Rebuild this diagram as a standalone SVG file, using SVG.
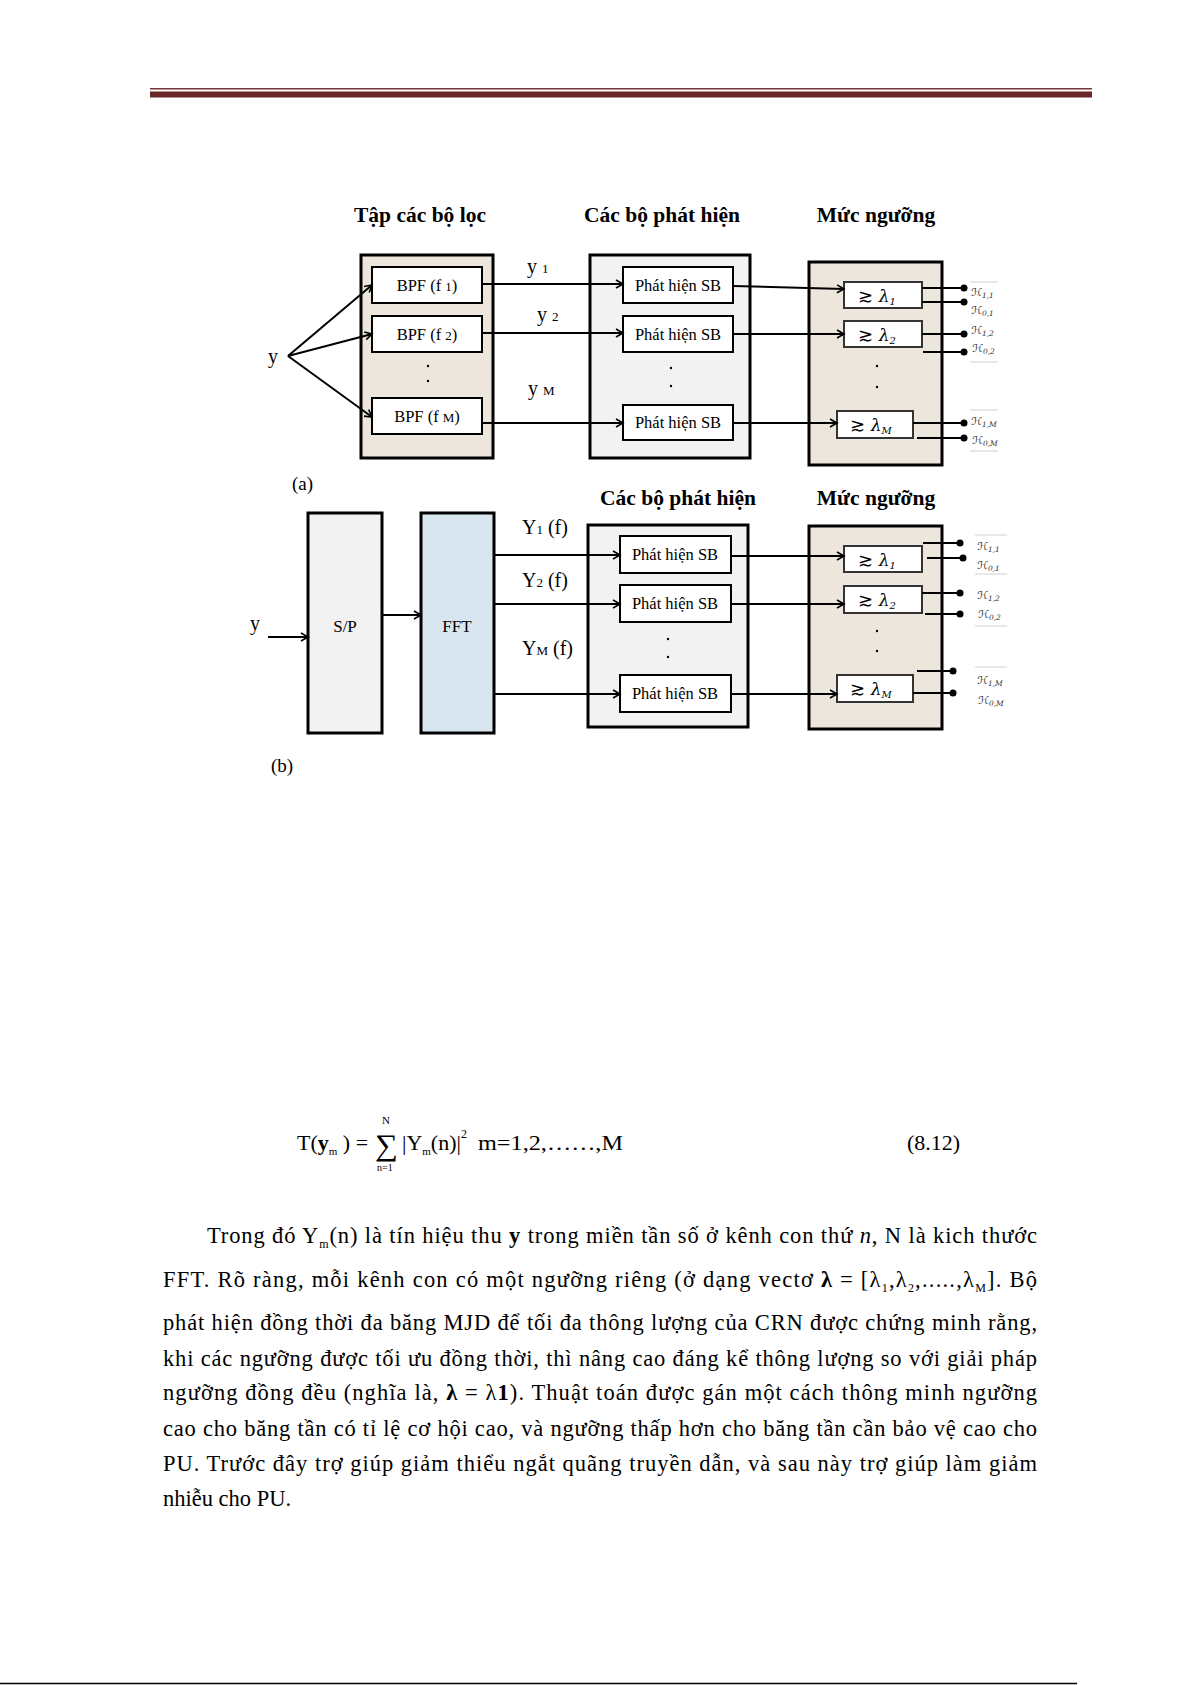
<svg xmlns="http://www.w3.org/2000/svg" width="1192" height="1685" viewBox="0 0 1192 1685">
<defs>
<marker id="arr" markerWidth="10" markerHeight="10" refX="8" refY="5" orient="auto" markerUnits="userSpaceOnUse"><path d="M1,1 L8,5 L1,9" fill="none" stroke="#000" stroke-width="1.6"/></marker>
</defs>
<style>
text{font-family:"Liberation Serif","Times New Roman",serif;fill:#000}
.title{font-size:21.5px;font-weight:bold;text-anchor:middle}
.box{fill:#fff;stroke:#000;stroke-width:2}
.big{stroke:#000;stroke-width:3}
.beige{fill:#ece6dc}
.gray{fill:#f2f2f2}
.blue{fill:#d7e6ef}
.lbl{font-size:16.5px;text-anchor:middle}
.sig{font-size:20px}
.sm{font-size:13px}
.th{fill:#fff;stroke:#333;stroke-width:2}
.ge{font-family:"DejaVu Sans",sans-serif;font-size:18px}
.lam{font-family:"DejaVu Serif",serif;font-style:italic;font-size:17px}
.lsub{font-family:"DejaVu Serif",serif;font-style:italic;font-size:10px}
.H{font-family:"DejaVu Serif","DejaVu Sans",serif;font-style:italic;font-size:11px;fill:#333}
.Hs{font-size:7.5px}
.c{fill:none;stroke:#000;stroke-width:2}
.ca{fill:none;stroke:#000;stroke-width:2;marker-end:url(#arr)}
.hl{stroke:#d0d0d0;stroke-width:1}
.body{font-size:22.5px}
.dot{fill:#000}
</style>
<!-- header / footer rules -->
<rect x="150" y="88" width="942" height="1.5" fill="#7a3535"/>
<rect x="150" y="91.5" width="942" height="6" fill="#6a2727"/>
<line x1="0" y1="1683.5" x2="1077" y2="1683.5" stroke="#000" stroke-width="1.5"/>

<!-- ===== Diagram (a) ===== -->
<text class="title" x="420" y="222">Tập các bộ lọc</text>
<text class="title" x="662" y="222">Các bộ phát hiện</text>
<text class="title" x="876" y="222">Mức ngưỡng</text>

<g id="filterbank"><rect class="big beige" x="361" y="255" width="132" height="203"/></g>
<g id="bpf1"><rect class="box" x="372" y="267" width="110" height="36"/><text class="lbl" x="427" y="291">BPF (f <tspan class="sm">1</tspan>)</text></g>
<g id="bpf2"><rect class="box" x="372" y="316" width="110" height="36"/><text class="lbl" x="427" y="340">BPF (f <tspan class="sm">2</tspan>)</text></g>
<g id="bpfM"><rect class="box" x="372" y="398" width="110" height="36"/><text class="lbl" x="427" y="422">BPF (f <tspan class="sm">M</tspan>)</text></g>
<circle class="dot" cx="428" cy="366" r="1.2"/><circle class="dot" cx="428" cy="381" r="1.2"/>
<text class="sig" x="268" y="363">y</text>

<g id="detA"><rect class="big gray" x="590" y="255" width="160" height="203"/></g>
<g id="detA1"><rect class="box" x="623" y="267" width="110" height="36"/><text class="lbl" x="678" y="291">Phát hiện SB</text></g>
<g id="detA2"><rect class="box" x="623" y="316" width="110" height="36"/><text class="lbl" x="678" y="340">Phát hiện SB</text></g>
<g id="detAM"><rect class="box" x="623" y="405" width="110" height="35"/><text class="lbl" x="678" y="428">Phát hiện SB</text></g>
<circle class="dot" cx="671" cy="368" r="1.2"/><circle class="dot" cx="671" cy="386" r="1.2"/>
<text class="sig" x="527" y="273">y <tspan class="sm">1</tspan></text>
<text class="sig" x="537" y="321">y <tspan class="sm">2</tspan></text>
<text class="sig" x="528" y="395">y <tspan class="sm">M</tspan></text>

<g id="thrA"><rect class="big beige" x="809" y="262" width="133" height="203"/></g>
<g id="thrA1"><rect class="th" x="844" y="282" width="78" height="26"/><text x="858" y="302"><tspan class="ge">≳ </tspan><tspan class="lam">λ</tspan><tspan class="lsub" dy="3">1</tspan></text></g>
<g id="thrA2"><rect class="th" x="844" y="321" width="78" height="26"/><text x="858" y="341"><tspan class="ge">≳ </tspan><tspan class="lam">λ</tspan><tspan class="lsub" dy="3">2</tspan></text></g>
<g id="thrAM"><rect class="th" x="837" y="411" width="76" height="27"/><text x="850" y="431"><tspan class="ge">≳ </tspan><tspan class="lam">λ</tspan><tspan class="lsub" dy="3">M</tspan></text></g>
<circle class="dot" cx="877" cy="366" r="1.2"/><circle class="dot" cx="877" cy="387" r="1.2"/>

<g id="hypA">
<line class="hl" x1="970" y1="282" x2="998" y2="282"/>
<line class="hl" x1="970" y1="362" x2="998" y2="362"/>
<line class="hl" x1="970" y1="410" x2="998" y2="410"/>
<line class="hl" x1="970" y1="451" x2="998" y2="451"/>
<text class="H" x="971" y="296">ℋ<tspan class="Hs" dy="2">1,1</tspan></text>
<text class="H" x="971" y="314">ℋ<tspan class="Hs" dy="2">0,1</tspan></text>
<text class="H" x="971" y="334">ℋ<tspan class="Hs" dy="2">1,2</tspan></text>
<text class="H" x="972" y="352">ℋ<tspan class="Hs" dy="2">0,2</tspan></text>
<text class="H" x="971" y="425">ℋ<tspan class="Hs" dy="2">1,M</tspan></text>
<text class="H" x="972" y="444">ℋ<tspan class="Hs" dy="2">0,M</tspan></text>
</g>

<g id="connectorsA">
<path class="ca" d="M288,356 L372,285"/>
<path class="ca" d="M288,356 L372,334"/>
<path class="ca" d="M288,356 L372,417"/>
<path class="ca" d="M482,284 L623,284"/>
<path class="ca" d="M482,333 L623,333"/>
<path class="ca" d="M482,423 L623,423"/>
<path class="ca" d="M733,286 L844,289"/>
<path class="ca" d="M733,334 L844,334"/>
<path class="ca" d="M733,423 L837,423"/>
<path class="c" d="M922,288 L964,288"/>
<path class="c" d="M922,302 L964,302"/>
<path class="c" d="M922,334 L964,334"/>
<path class="c" d="M923,352 L964,352"/>
<path class="c" d="M913,423 L964,423"/>
<path class="c" d="M917,438 L964,438"/>
<circle class="dot" cx="964" cy="288" r="3.5"/><circle class="dot" cx="964" cy="302" r="3.5"/>
<circle class="dot" cx="964" cy="334" r="3.5"/><circle class="dot" cx="964" cy="352" r="3.5"/>
<circle class="dot" cx="964" cy="423" r="3.5"/><circle class="dot" cx="964" cy="438" r="3.5"/>
</g>
<text style="font-size:19px" x="292" y="490">(a)</text>

<!-- ===== Diagram (b) ===== -->
<text class="title" x="678" y="505">Các bộ phát hiện</text>
<text class="title" x="876" y="505">Mức ngưỡng</text>
<g id="sp"><rect class="big gray" x="308" y="513" width="74" height="220"/><text style="font-size:17px;text-anchor:middle" x="345" y="632">S/P</text></g>
<g id="fft"><rect class="big blue" x="421" y="513" width="73" height="220"/><text style="font-size:17px;text-anchor:middle" x="457" y="632">FFT</text></g>
<text class="sig" x="250" y="630">y</text>

<g id="detB"><rect class="big gray" x="588" y="525" width="160" height="202"/></g>
<g id="detB1"><rect class="box" x="620" y="536" width="111" height="37"/><text class="lbl" x="675" y="560">Phát hiện SB</text></g>
<g id="detB2"><rect class="box" x="620" y="585" width="111" height="37"/><text class="lbl" x="675" y="609">Phát hiện SB</text></g>
<g id="detBM"><rect class="box" x="620" y="675" width="111" height="37"/><text class="lbl" x="675" y="699">Phát hiện SB</text></g>
<circle class="dot" cx="668" cy="639" r="1.2"/><circle class="dot" cx="668" cy="657" r="1.2"/>
<text class="sig" x="522" y="534">Y<tspan class="sm">1</tspan> (f)</text>
<text class="sig" x="522" y="587">Y<tspan class="sm">2</tspan> (f)</text>
<text class="sig" x="522" y="655">Y<tspan class="sm">M</tspan> (f)</text>

<g id="thrB"><rect class="big beige" x="809" y="526" width="133" height="203"/></g>
<g id="thrB1"><rect class="th" x="844" y="546" width="78" height="26"/><text x="858" y="566"><tspan class="ge">≳ </tspan><tspan class="lam">λ</tspan><tspan class="lsub" dy="3">1</tspan></text></g>
<g id="thrB2"><rect class="th" x="844" y="586" width="78" height="27"/><text x="858" y="606"><tspan class="ge">≳ </tspan><tspan class="lam">λ</tspan><tspan class="lsub" dy="3">2</tspan></text></g>
<g id="thrBM"><rect class="th" x="837" y="675" width="76" height="27"/><text x="850" y="695"><tspan class="ge">≳ </tspan><tspan class="lam">λ</tspan><tspan class="lsub" dy="3">M</tspan></text></g>
<circle class="dot" cx="877" cy="631" r="1.2"/><circle class="dot" cx="877" cy="651" r="1.2"/>

<g id="hypB">
<line class="hl" x1="975" y1="535" x2="1007" y2="535"/>
<line class="hl" x1="975" y1="574" x2="1007" y2="574"/>
<line class="hl" x1="975" y1="626" x2="1007" y2="626"/>
<line class="hl" x1="975" y1="667" x2="1007" y2="667"/>
<text class="H" x="977" y="550">ℋ<tspan class="Hs" dy="2">1,1</tspan></text>
<text class="H" x="977" y="569">ℋ<tspan class="Hs" dy="2">0,1</tspan></text>
<text class="H" x="977" y="599">ℋ<tspan class="Hs" dy="2">1,2</tspan></text>
<text class="H" x="978" y="618">ℋ<tspan class="Hs" dy="2">0,2</tspan></text>
<text class="H" x="977" y="684">ℋ<tspan class="Hs" dy="2">1,M</tspan></text>
<text class="H" x="978" y="704">ℋ<tspan class="Hs" dy="2">0,M</tspan></text>
</g>

<g id="connectorsB">
<path class="ca" d="M268,637 L308,637"/>
<path class="ca" d="M382,615 L421,615"/>
<path class="ca" d="M494,555 L620,555"/>
<path class="ca" d="M494,604 L620,604"/>
<path class="ca" d="M494,694 L620,694"/>
<path class="ca" d="M731,556 L844,556"/>
<path class="ca" d="M731,604 L844,604"/>
<path class="ca" d="M731,694 L837,694"/>
<path class="c" d="M923,543 L960,543"/>
<path class="c" d="M927,558 L963,558"/>
<path class="c" d="M922,593 L960,593"/>
<path class="c" d="M925,614 L960,614"/>
<path class="c" d="M917,671 L953,671"/>
<path class="c" d="M913,693 L953,693"/>
<circle class="dot" cx="960" cy="543" r="3.5"/><circle class="dot" cx="963" cy="558" r="3.5"/>
<circle class="dot" cx="960" cy="593" r="3.5"/><circle class="dot" cx="960" cy="614" r="3.5"/>
<circle class="dot" cx="953" cy="671" r="3.5"/><circle class="dot" cx="953" cy="693" r="3.5"/>
</g>
<text style="font-size:19px" x="271" y="772">(b)</text>

<!-- ===== Formula ===== -->
<g id="formula" style="font-size:22px">
<text x="297" y="1150">T(<tspan font-weight="bold">y</tspan><tspan font-size="11px" dy="5">m</tspan><tspan dy="-5"> ) =</tspan></text>
<text x="375" y="1155" style="font-size:30px" textLength="23" lengthAdjust="spacingAndGlyphs">∑</text>
<text x="382" y="1124" style="font-size:11px">N</text>
<text x="377" y="1171" style="font-size:10px">n=1</text>
<text x="402" y="1150">|Y<tspan font-size="11px" dy="5">m</tspan><tspan dy="-5">(n)|</tspan><tspan font-size="12px" dy="-12">2</tspan></text>
<text x="478" y="1150" textLength="145" lengthAdjust="spacingAndGlyphs">m=1,2,……,M</text>
<text x="907" y="1150">(8.12)</text>
</g>

<!-- ===== Paragraph ===== -->
<g id="paragraph" class="body">
<text class="body" x="207" y="1243" textLength="830" lengthAdjust="spacing">Trong đó  Y<tspan font-size="12px" dy="5">m</tspan><tspan dy="-5">(n)  là tín hiệu thu </tspan><tspan font-weight="bold">y</tspan> trong miền tần số ở kênh con thứ <tspan font-style="italic">n</tspan>, N là kich thước</text>
<text class="body" x="163" y="1287" textLength="874" lengthAdjust="spacing">FFT. Rõ ràng, mỗi kênh con có một ngưỡng riêng (ở dạng vectơ  <tspan font-weight="bold">λ</tspan> = [λ<tspan font-size="12px" dy="5">1</tspan><tspan dy="-5">,λ</tspan><tspan font-size="12px" dy="5">2</tspan><tspan dy="-5">,.....,λ</tspan><tspan font-size="12px" dy="5">M</tspan><tspan dy="-5">]. Bộ</tspan></text>
<text class="body" x="163" y="1330" textLength="874" lengthAdjust="spacing">phát hiện đồng thời đa băng MJD để tối đa thông lượng của CRN được chứng minh rằng,</text>
<text class="body" x="163" y="1366" textLength="874" lengthAdjust="spacing">khi các ngưỡng được tối ưu đồng thời, thì nâng cao đáng kể thông lượng so với giải pháp</text>
<text class="body" x="163" y="1400" textLength="874" lengthAdjust="spacing">ngưỡng đồng đều (nghĩa là,  <tspan font-weight="bold">λ</tspan> = λ<tspan font-weight="bold">1</tspan>). Thuật toán được gán một cách thông minh ngưỡng</text>
<text class="body" x="163" y="1436" textLength="874" lengthAdjust="spacing">cao cho băng tần có tỉ lệ cơ hội cao, và ngưỡng thấp hơn cho băng tần cần bảo vệ cao cho</text>
<text class="body" x="163" y="1471" textLength="874" lengthAdjust="spacing">PU. Trước đây trợ giúp giảm thiểu ngắt quãng truyền dẫn, và sau này trợ giúp làm giảm</text>
<text class="body" x="163" y="1506">nhiễu cho PU.</text>
</g>
</svg>
